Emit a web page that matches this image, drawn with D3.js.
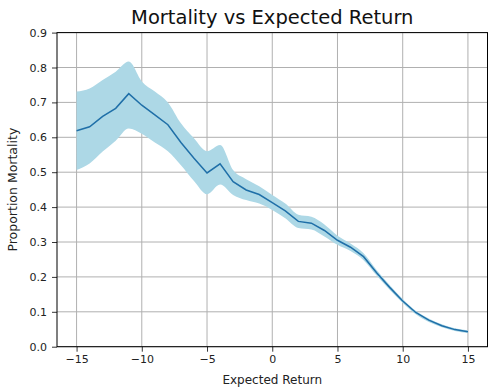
<!DOCTYPE html>
<html><head><meta charset="utf-8">
<script src="https://cdn.jsdelivr.net/npm/d3@7"></script>
<style>body{margin:0;background:#fff}svg{display:block}text{font-family:"DejaVu Sans",sans-serif}</style>
</head><body><svg id="c" width="494" height="392"></svg>
<script>
const xs    = [-15,-14,-13,-12,-11,-10,-9,-8,-7,-6,-5,-4,-3,-2,-1,0,1,2,3,4,5,6,7,8,9,10,11,12,13,14,15];
const mean  = [0.619,0.630,0.660,0.683,0.725,0.692,0.664,0.636,0.585,0.540,0.498,0.524,0.473,0.449,0.436,0.413,0.389,0.359,0.354,0.333,0.305,0.285,0.258,0.212,0.170,0.131,0.098,0.076,0.060,0.049,0.043];
const upper = [0.731,0.740,0.764,0.788,0.817,0.760,0.731,0.700,0.640,0.597,0.560,0.578,0.506,0.480,0.460,0.435,0.410,0.378,0.372,0.350,0.318,0.296,0.268,0.220,0.177,0.137,0.103,0.081,0.064,0.053,0.047];
const lower = [0.506,0.525,0.559,0.590,0.625,0.610,0.585,0.560,0.520,0.475,0.437,0.465,0.435,0.420,0.410,0.392,0.368,0.340,0.336,0.316,0.292,0.274,0.248,0.204,0.163,0.125,0.093,0.071,0.056,0.045,0.039];
const xTicks = [-15,-10,-5,0,5,10,15];
const yTicks = [0.0,0.1,0.2,0.3,0.4,0.5,0.6,0.7,0.8,0.9];
const title = "Mortality vs Expected Return";
const xLabel = "Expected Return";
const yLabel = "Proportion Mortality";

const L=57,R=487.5,T=32.6,B=346.7;
const svg=d3.select("#c");
const x=d3.scaleLinear().domain([-16.5,16.5]).range([L,R]);
const y=d3.scaleLinear().domain([0,0.9]).range([B,T]);
const data=xs.map((v,i)=>({x:v,m:mean[i],u:upper[i],l:lower[i]}));

// grid
const g=svg.append("g");
g.selectAll("line.gx").data(xTicks).join("line").attr("x1",d=>x(d)).attr("x2",d=>x(d)).attr("y1",T).attr("y2",B).attr("stroke","#b0b0b0").attr("stroke-width",1);
g.selectAll("line.gy").data(yTicks).join("line").attr("y1",d=>y(d)).attr("y2",d=>y(d)).attr("x1",L).attr("x2",R).attr("stroke","#b0b0b0").attr("stroke-width",1);

svg.append("path").datum(data).attr("fill","#add8e6").attr("d",d3.area().curve(d3.curveMonotoneX).x(d=>x(d.x)).y0(d=>y(d.l)).y1(d=>y(d.u)));
svg.append("path").datum(data).attr("fill","none").attr("stroke","#1f6fa8").attr("stroke-width",1.5).attr("d",d3.line().x(d=>x(d.x)).y(d=>y(d.m)));

// axes
const xa=svg.append("g").attr("transform",`translate(0,${B})`).call(d3.axisBottom(x).tickValues(xTicks).tickSize(5).tickPadding(4).tickFormat(d=>d<0?"\u2212"+Math.abs(d):d));
const ya=svg.append("g").attr("transform",`translate(${L},0)`).call(d3.axisLeft(y).tickValues(yTicks).tickSize(5).tickPadding(5).tickFormat(d3.format(".1f")));
[xa,ya].forEach(a=>{a.select(".domain").remove();a.selectAll("text").attr("font-size",11).attr("fill","#222").attr("font-family","DejaVu Sans");a.selectAll("line").attr("stroke","#000").attr("stroke-width",0.8);});
svg.append("rect").attr("x",L).attr("y",T).attr("width",R-L).attr("height",B-T).attr("fill","none").attr("stroke","#000").attr("stroke-width",1);

svg.append("text").attr("x",(L+R)/2).attr("y",24).attr("text-anchor","middle").attr("font-size",19.5).attr("fill","#111").text(title);
svg.append("text").attr("x",(L+R)/2).attr("y",384).attr("text-anchor","middle").attr("font-size",12).attr("fill","#222").text(xLabel);
svg.append("text").attr("transform",`translate(17,${(T+B)/2}) rotate(-90)`).attr("text-anchor","middle").attr("font-size",12.5).attr("fill","#222").text(yLabel);
</script></body></html>
